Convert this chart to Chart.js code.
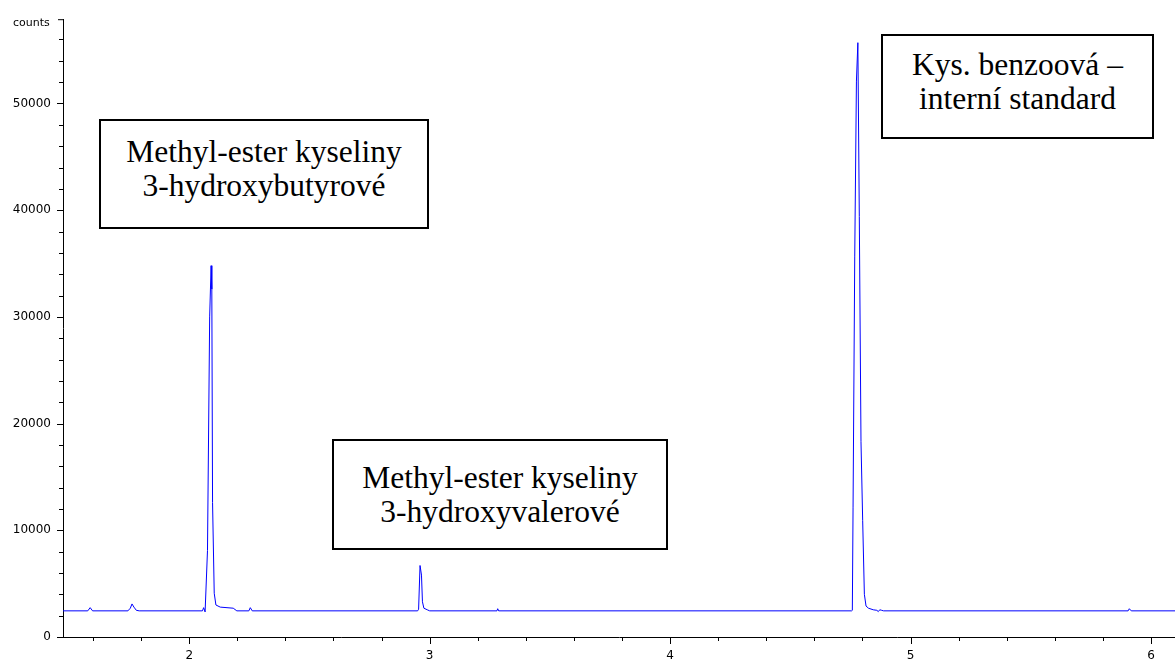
<!DOCTYPE html>
<html>
<head>
<meta charset="utf-8">
<script src="https://cdn.jsdelivr.net/npm/chart.js"></script>
<style>
    body { margin: 0; background: #fff; }
    #wrap { position: relative; width: 1175px; height: 659px; overflow: hidden; }
    #chrom { position: absolute; left: 0; top: 0; }
    .note {
        position: absolute;
        box-sizing: border-box;
        border: 2px solid #000;
        background: #fff;
        font-family: "Liberation Serif", "Times New Roman", serif;
        font-size: 31.5px;
        line-height: 34px;
        color: #000;
        text-align: center;
        display: flex;
        flex-direction: column;
        justify-content: center;
    }
    #units {
        position: absolute;
        left: 13px;
        top: 16px;
        font-family: "DejaVu Sans", sans-serif;
        font-size: 11px;
        color: #000;
    }
</style>
</head>
<body>
<div id="wrap">
    <canvas id="chrom" width="1175" height="659"></canvas>
    <div id="units">counts</div>
    <div class="note" style="left:99px; top:119px; width:330px; height:110px; padding-bottom:10px;">
        <div>Methyl-ester kyseliny</div><div>3-hydroxybutyrové</div>
    </div>
    <div class="note" style="left:332px; top:439px; width:336px; height:111px;">
        <div>Methyl-ester kyseliny</div><div>3-hydroxyvalerové</div>
    </div>
    <div class="note" style="left:881px; top:34px; width:273px; height:105px; padding-bottom:9px;">
        <div>Kys. benzoová –</div><div>interní standard</div>
    </div>
</div>
<script>
// retention time (min) and detector response (counts)
const times = [
    1.475, 1.578, 1.588, 1.598,
    1.745, 1.755, 1.762, 1.770, 1.780, 1.792,
    2.055, 2.060, 2.066, 2.076, 2.085, 2.091, 2.094, 2.097, 2.104, 2.111, 2.129, 2.183, 2.198,
    2.248, 2.254, 2.262,
    2.950, 2.954, 2.960, 2.966, 2.970, 2.976, 2.990, 3.000,
    3.280, 3.283, 3.287,
    4.755, 4.758, 4.761, 4.768, 4.775, 4.781, 4.787, 4.794, 4.801, 4.808, 4.815, 4.825, 4.845, 4.860, 4.866, 4.872, 4.880, 4.888,
    5.905, 5.910, 5.918,
    6.100
];
const counts = [
    2450, 2450, 2750, 2450,
    2450, 2700, 3100, 2800, 2500, 2450,
    2450, 2750, 2350, 8100, 30000, 34800, 32600, 12600, 4100, 3000, 2800, 2700, 2450,
    2450, 2750, 2450,
    2450, 2600, 6700, 5800, 3300, 2700, 2550, 2450,
    2450, 2650, 2450,
    2450, 2500, 12100, 35700, 52100, 55700, 39400, 18300, 10900, 4000, 2900, 2700, 2550, 2500, 2380, 2550, 2500, 2450,
    2450, 2650, 2450,
    2450
];

const xLabels = [2, 3, 4, 5, 6];
const xMinor = [1.6, 1.8, 2.2, 2.4, 2.6, 2.8, 3.2, 3.4, 3.6, 3.8, 4.2, 4.4, 4.6, 4.8, 5.2, 5.4, 5.6, 5.8, 6.0];
const yLabels = [0, 10000, 20000, 30000, 40000, 50000];
const yMinor = [2000, 4000, 6000, 8000, 12000, 14000, 16000, 18000, 22000, 24000, 26000, 28000,
    32000, 34000, 36000, 38000, 42000, 44000, 46000, 48000, 52000, 54000, 56000];

const points = times.map((t, i) => ({ x: t, y: counts[i] }));

// tick marks: long ones at labels, short ones in between
const tickMarks = {
    id: 'tickMarks',
    afterDraw(chart) {
        const ctx = chart.ctx;
        const xs = chart.scales.x, ys = chart.scales.y;
        ctx.save();
        ctx.strokeStyle = '#000';
        ctx.lineWidth = 1;
        ctx.beginPath();
        xLabels.forEach(v => {
            const px = Math.round(xs.getPixelForValue(v)) + 0.5;
            ctx.moveTo(px, xs.top); ctx.lineTo(px, xs.top + 7);
        });
        xMinor.forEach(v => {
            const px = Math.round(xs.getPixelForValue(v)) + 0.5;
            ctx.moveTo(px, xs.top); ctx.lineTo(px, xs.top + 4);
        });
        yLabels.forEach(v => {
            const py = Math.round(ys.getPixelForValue(v)) + 0.5;
            ctx.moveTo(ys.right, py); ctx.lineTo(ys.right - 6, py);
        });
        yMinor.forEach(v => {
            const py = Math.round(ys.getPixelForValue(v)) + 0.5;
            ctx.moveTo(ys.right, py); ctx.lineTo(ys.right - 4, py);
        });
        ctx.moveTo(ys.right, ys.top + 0.5); ctx.lineTo(ys.right - 5, ys.top + 0.5);
        ctx.stroke();
        ctx.restore();
    }
};

const chrom = new Chart(document.getElementById('chrom').getContext('2d'), {
    type: 'scatter',
    data: {
        datasets: [{
            label: 'signal',
            data: points,
            showLine: true,
            borderColor: '#0000ff',
            borderWidth: 1,
            pointRadius: 0,
            tension: 0,
            fill: false
        }]
    },
    options: {
        responsive: false,
        animation: false,
        layout: { padding: { top: 12, left: 0, right: 0, bottom: 0 } },
        plugins: {
            legend: { display: false },
            tooltip: { enabled: false }
        },
        scales: {
            x: {
                type: 'linear',
                min: 1.475,
                max: 6.1,
                afterBuildTicks: s => { s.ticks = xLabels.map(v => ({ value: v })); },
                afterFit: s => { s.height = 22; },
                grid: { display: false, drawTicks: false },
                border: { display: true, color: '#000', width: 1 },
                ticks: {
                    padding: 12,
                    color: '#000',
                    font: { family: 'DejaVu Sans', size: 12 },
                    maxRotation: 0,
                    autoSkip: false
                }
            },
            y: {
                type: 'linear',
                min: 0,
                max: 57900,
                afterBuildTicks: s => { s.ticks = yLabels.map(v => ({ value: v })); },
                afterFit: s => { s.width = 63; },
                grid: { display: false, drawTicks: false },
                border: { display: true, color: '#000', width: 1 },
                ticks: {
                    padding: 12,
                    color: '#000',
                    font: { family: 'DejaVu Sans', size: 12 },
                    callback: v => String(v)
                }
            }
        }
    },
    plugins: [tickMarks]
});
</script>
</body>
</html>
